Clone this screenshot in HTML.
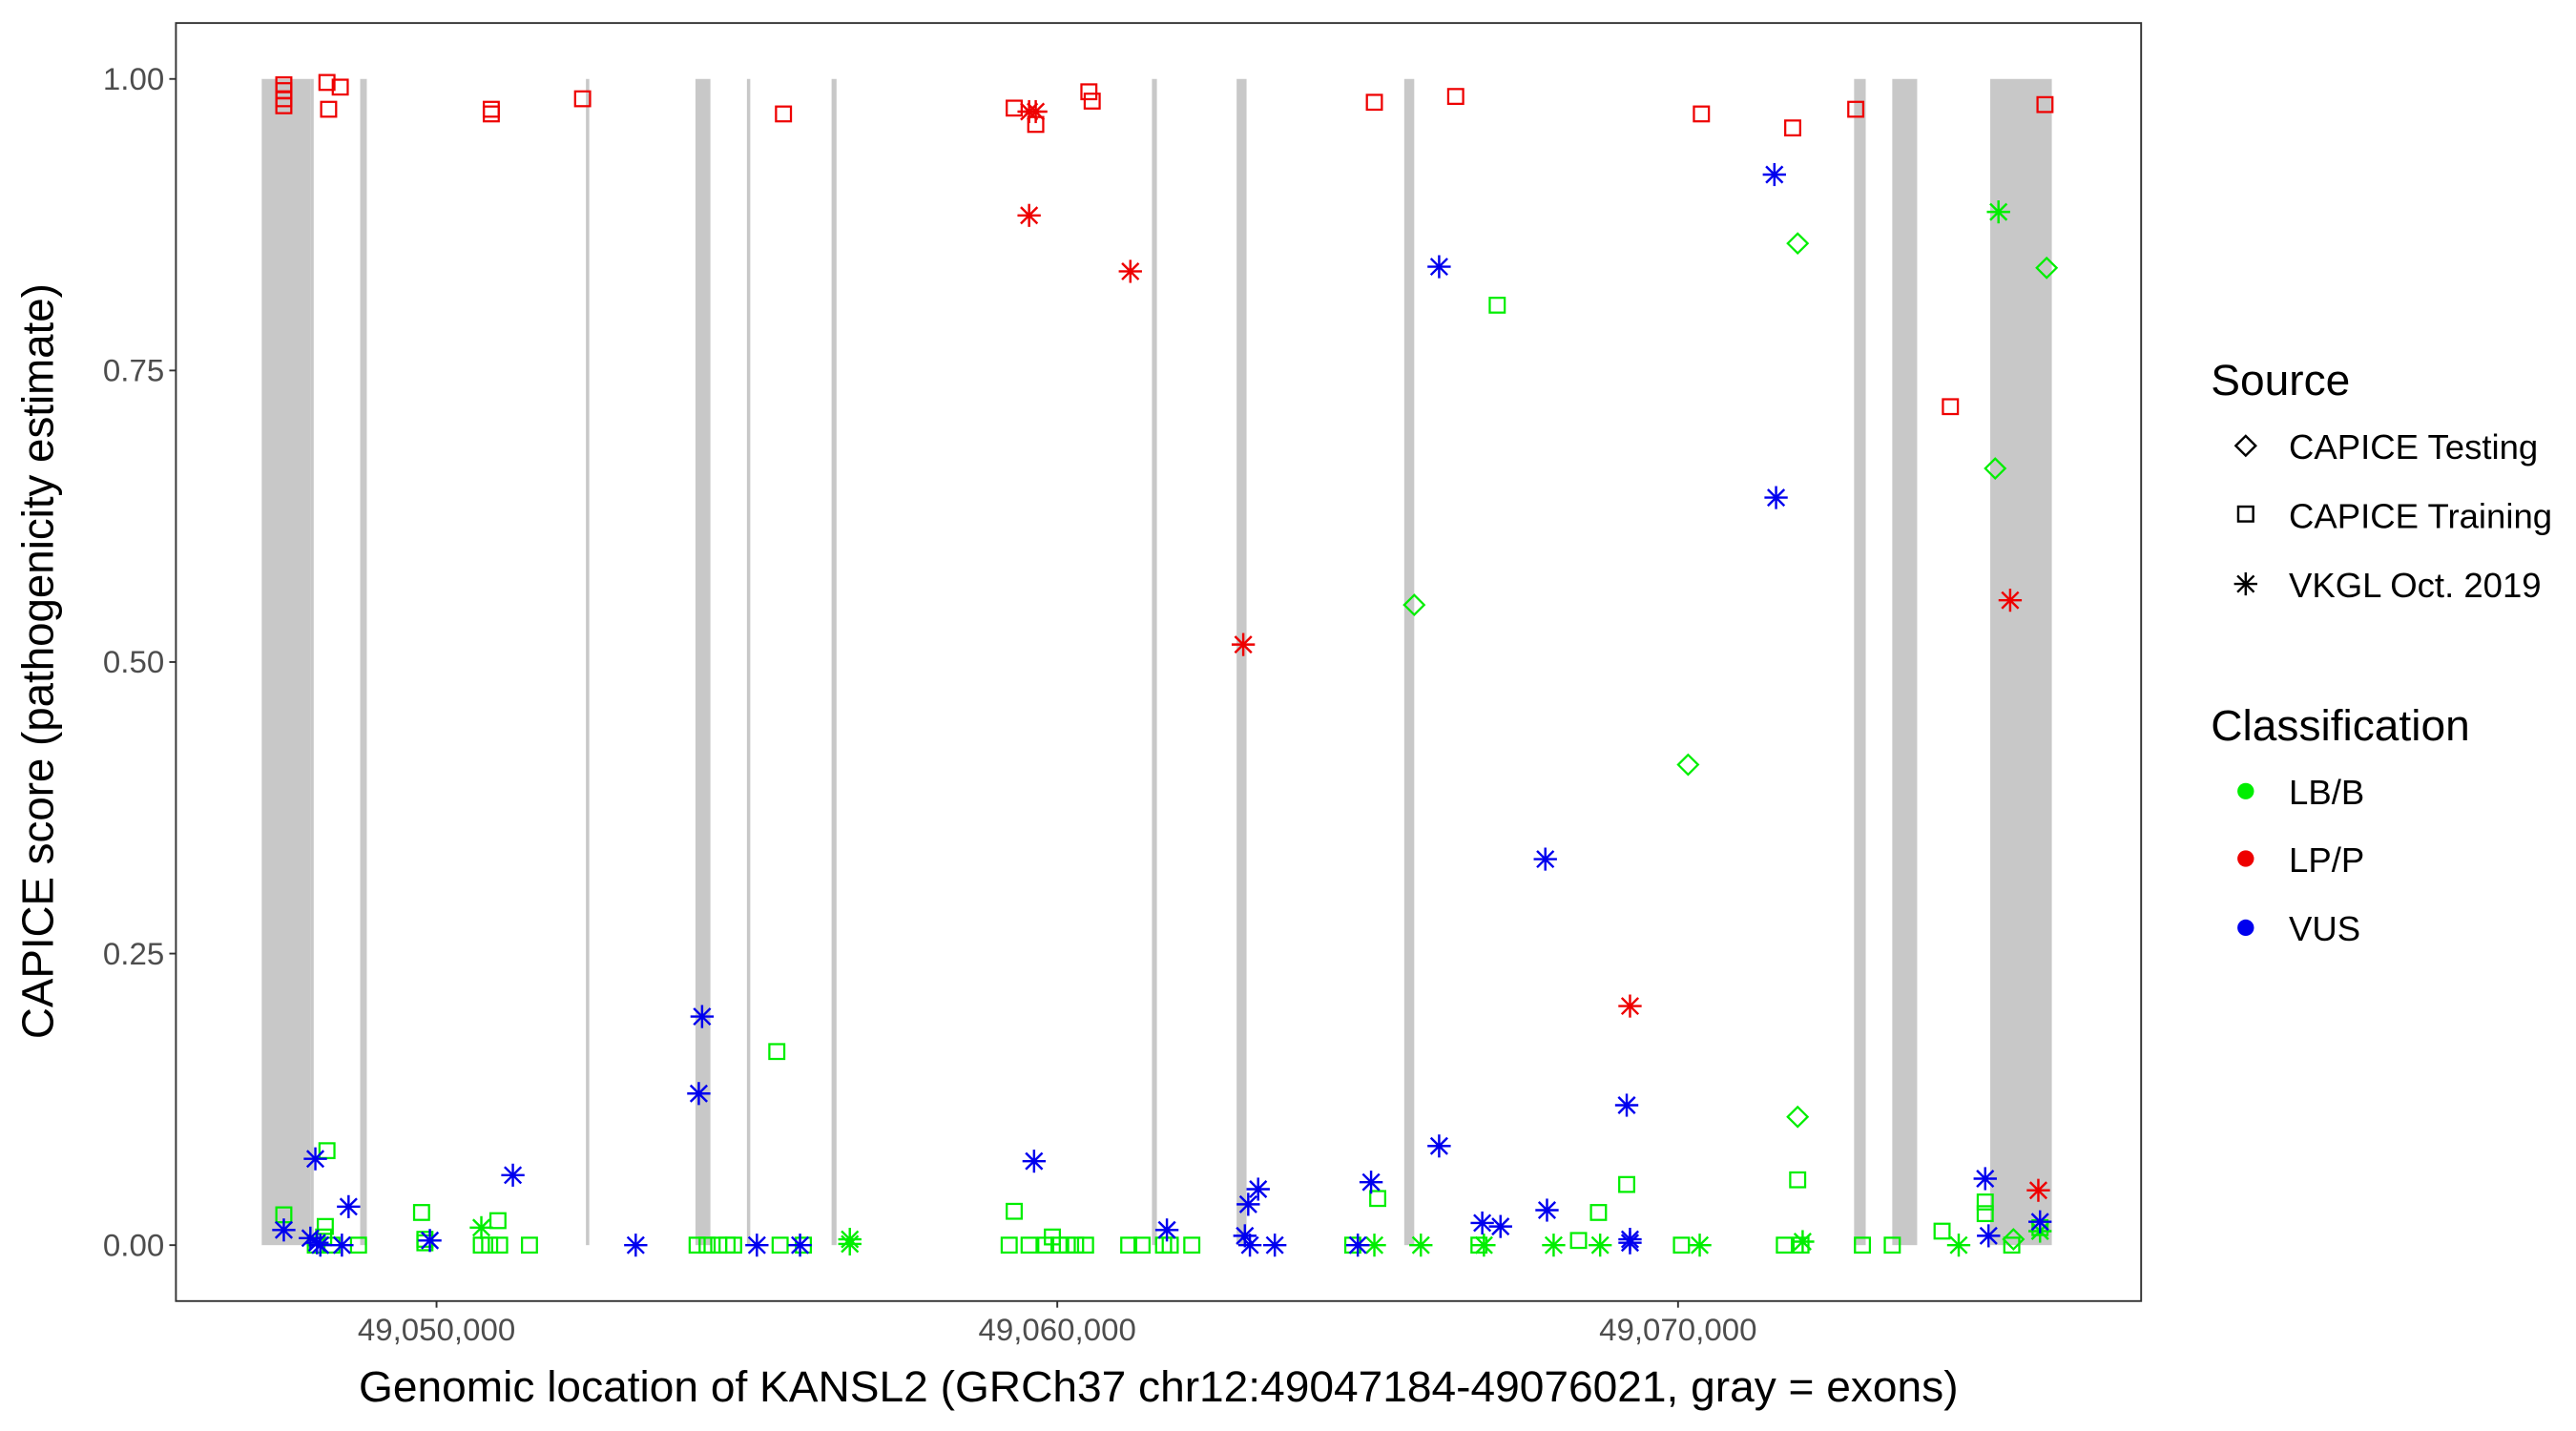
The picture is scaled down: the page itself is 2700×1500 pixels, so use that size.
<!DOCTYPE html>
<html><head><meta charset="utf-8"><style>
html,body{margin:0;padding:0;background:#fff;}
svg{display:block;font-family:"Liberation Sans",Arial,sans-serif;}
</style></head><body>
<svg id="chart" width="2700" height="1500" viewBox="0 0 1552 870" preserveAspectRatio="none" xmlns="http://www.w3.org/2000/svg">
<g id="exons"></g>
<g id="points"></g>
<rect x="106" y="14" width="1184" height="777" fill="none" stroke="#333" stroke-width="1.1"/>
<g id="yaxis"></g>
<g id="xaxis"></g>
<text transform="translate(32,402) rotate(-90)" text-anchor="middle" font-size="26.5" fill="#000">CAPICE score (pathogenicity estimate)</text>
<text x="698" y="852" text-anchor="middle" font-size="26.5" fill="#000">Genomic location of KANSL2 (GRCh37 chr12:49047184-49076021, gray = exons)</text>
<g>
<text x="1332" y="240" font-size="26.5">Source</text>
<path d="M1347 271 L1353 265 L1359 271 L1353 277 Z" fill="none" stroke="#000" stroke-width="1.4"/>
<text x="1379" y="279" font-size="21">CAPICE Testing</text>
<rect x="1348.5" y="308" width="9" height="9" fill="none" stroke="#000" stroke-width="1.4"/>
<text x="1379" y="321" font-size="21">CAPICE Training</text>
<g stroke="#000" stroke-width="1.4"><line x1="1353" y1="348" x2="1353" y2="362"/><line x1="1346" y1="355" x2="1360" y2="355"/><line x1="1348" y1="350" x2="1358" y2="360"/><line x1="1348" y1="360" x2="1358" y2="350"/></g>
<text x="1379" y="363" font-size="21">VKGL Oct. 2019</text>
</g>
<g>
<text x="1332" y="450" font-size="26.5">Classification</text>
<circle cx="1353" cy="481" r="5" fill="#00ee00"/>
<text x="1379" y="489" font-size="21">LB/B</text>
<circle cx="1353" cy="522" r="5" fill="#ee0000"/>
<text x="1379" y="530" font-size="21">LP/P</text>
<circle cx="1353" cy="564" r="5" fill="#0000ee"/>
<text x="1379" y="572" font-size="21">VUS</text>
</g>
</svg>
<script>
const exonStarts=[49047184,49047968,49048770,49052407,49054171,49055000,49056364,49061525,49062889,49065589,49072836,49073451,49075029];
const exonEnds=[49047968,49047968,49048877,49052460,49054412,49055054,49056444,49061605,49063049,49065750,49073023,49073852,49076021];
const yTicks=[0,0.25,0.5,0.75,1];
const yTickLabels=["0.00","0.25","0.50","0.75","1.00"];
const xTicks=[49050000,49060000,49070000];
const xTickLabels=["49,050,000","49,060,000","49,070,000"];

const trainLppPos=[49047540,49047540,49047540,49047540,49048235,49048449,49048262,49050882,49050882,49052353,49055589,49059306,49059653,49060509,49060562,49065108,49066418,49070376,49071847,49072863,49074387,49075911];
const trainLppScore=[0.995,0.99,0.983,0.977,0.997,0.993,0.974,0.974,0.970,0.983,0.970,0.975,0.961,0.989,0.981,0.980,0.985,0.970,0.958,0.974,0.719,0.978];
const vkglLppPos=[49059546,49059653,49059546,49061177,49062996,49069226,49075350,49075804];
const vkglLppScore=[0.972,0.972,0.883,0.835,0.515,0.205,0.553,0.047];
const vkglVusPos=[49047540,49047968,49048048,49048075,49048128,49048476,49048583,49049893,49051230,49053209,49054225,49054278,49055161,49055856,49059626,49061766,49063022,49063076,49063103,49063236,49063504,49064841,49065055,49066151,49066151,49066846,49067140,49067889,49067862,49069173,49069226,49069226,49071552,49071579,49074948,49075002,49075831];
const vkglVusScore=[0.013,0.006,0.074,0.002,0,0,0.033,0.004,0.060,0,0.130,0.196,0,0,0.072,0.013,0.008,0.035,0,0.048,0,0,0.054,0.839,0.085,0.019,0.016,0.030,0.331,0.120,0.002,0.005,0.918,0.641,0.057,0.008,0.020];
const vkglLbbPos=[49050722,49056658,49056658,49065108,49065857,49066873,49067996,49068745,49070349,49072007,49074521,49075162,49075831];
const vkglLbbScore=[0.015,0.005,0.001,0,0,0,0,0,0,0.003,0,0.886,0.012];
const testLbbPos=[49065750,49070162,49071927,49071927,49075109,49075938,49075403];
const testLbbScore=[0.549,0.412,0.859,0.110,0.666,0.838,0.005];
const trainLbbPos=[49047540,49048235,49048208,49048182,49048048,49048315,49048743,49049759,49049813,49049813,49050722,49050856,49050989,49051016,49051497,49054198,49054359,49054546,49054680,49054786,49055482,49055535,49055910,49059225,49059306,49059546,49059814,49059921,49060028,49060161,49060295,49060455,49061151,49061365,49061712,49061819,49062167,49064760,49065162,49066793,49067087,49068397,49068718,49069173,49070055,49071713,49071927,49071980,49072970,49073451,49074253,49074948,49074948,49075376,49075831];
const trainLbbScore=[0.026,0.081,0.016,0.007,0,0,0,0.028,0.005,0.002,0,0,0.021,0,0,0,0,0,0,0,0.166,0,0,0,0.029,0,0,0.007,0,0,0,0,0,0,0,0,0,0,0.040,0,0.806,0.004,0.028,0.052,0,0,0.056,0,0,0,0.012,0.037,0.027,0,0.015];

const NS='http://www.w3.org/2000/svg';
function xs(bp){return 263+(bp-49050000)*0.0374;}
function ys(v){return 757-v*709;}
function mk(tag,attrs,parent){const e=document.createElementNS(NS,tag);for(const k in attrs)e.setAttribute(k,attrs[k]);parent.appendChild(e);return e;}

const exG=document.getElementById('exons');
for(let i=0;i<exonStarts.length;i++){
  const w=Math.max(xs(exonEnds[i])-xs(exonStarts[i]),2);
  const r=mk('rect',{x:xs(exonStarts[i]),y:ys(1),width:w,height:ys(0)-ys(1),fill:'#c8c8c8'},exG);
  
  
}
const yG=document.getElementById('yaxis');
yTicks.forEach((t,i)=>{
  const l=mk('line',{x1:102,x2:106,y1:ys(t),y2:ys(t),stroke:'#333','stroke-width':1.1},yG);
  
  
  const tx=mk('text',{x:99,y:ys(t)+6.5,'text-anchor':'end','font-size':19,fill:'#4d4d4d'},yG);
  tx.textContent=yTickLabels[i];
  
  
});
const xG=document.getElementById('xaxis');
xTicks.forEach((t,i)=>{
  const l=mk('line',{x1:xs(t),x2:xs(t),y1:791,y2:795,stroke:'#333','stroke-width':1.1},xG);
  
  
  const tx=mk('text',{x:xs(t),y:815,'text-anchor':'middle','font-size':19,fill:'#4d4d4d'},xG);
  tx.textContent=xTickLabels[i];
  
  
});
const pG=document.getElementById('points');
const GREEN='#00ee00',RED='#ee0000',BLUE='#0000ee';
function square(x,y,c){return mk('rect',{x:x-4.5,y:y-4.5,width:9,height:9,fill:'none',stroke:c,'stroke-width':1.3},pG);}
function diamond(x,y,c){return mk('path',{d:`M${x-6} ${y} L${x} ${y-6} L${x+6} ${y} L${x} ${y+6} Z`,fill:'none',stroke:c,'stroke-width':1.3},pG);}
function star(x,y,c){const g=mk('g',{stroke:c,'stroke-width':1.4},pG);
  mk('line',{x1:x,y1:y-7,x2:x,y2:y+7},g);mk('line',{x1:x-7,y1:y,x2:x+7,y2:y},g);
  mk('line',{x1:x-5,y1:y-5,x2:x+5,y2:y+5},g);mk('line',{x1:x-5,y1:y+5,x2:x+5,y2:y-5},g);return g;}
function draw(pos,sc,fn,c,name){
  for(let i=0;i<pos.length;i++){
    const e=fn(xs(pos[i]),ys(sc[i]),c);
    
    
  }
}
draw(trainLbbPos,trainLbbScore,square,GREEN,'point-training-lbb');
draw(vkglLbbPos,vkglLbbScore,star,GREEN,'point-vkgl-lbb');
draw(testLbbPos,testLbbScore,diamond,GREEN,'point-testing-lbb');
draw(trainLppPos,trainLppScore,square,RED,'point-training-lpp');
draw(vkglLppPos,vkglLppScore,star,RED,'point-vkgl-lpp');
draw(vkglVusPos,vkglVusScore,star,BLUE,'point-vkgl-vus');
</script>
</body></html>
